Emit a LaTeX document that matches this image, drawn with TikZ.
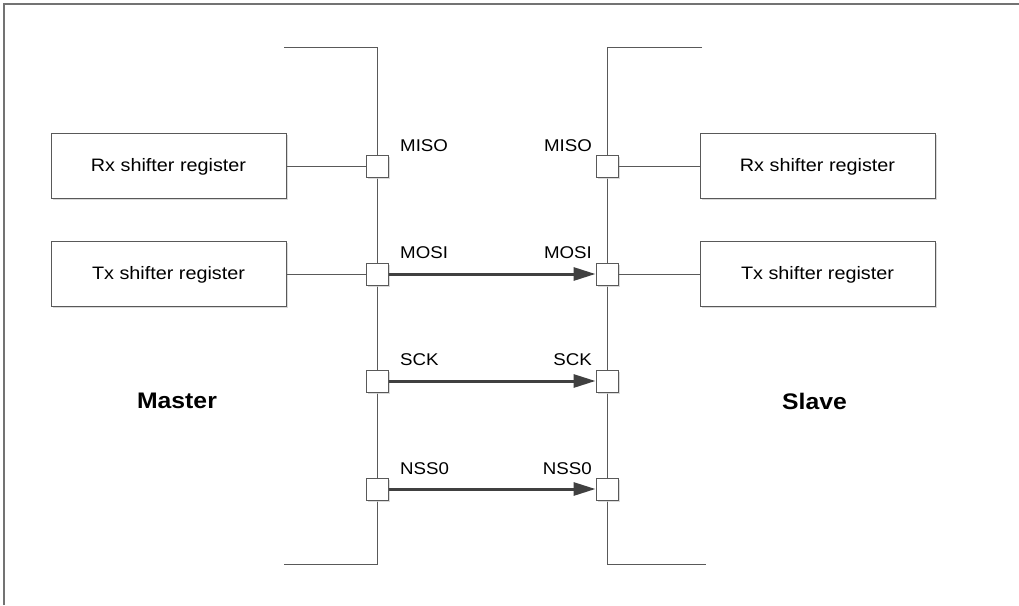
\documentclass[tikz,border=0pt]{standalone}
\usepackage{fontspec}
\setmainfont{Liberation Sans}[FakeStretch=1.1]
\usetikzlibrary{arrows.meta,shadows}
\begin{document}
\begin{tikzpicture}[x=1pt,y=-1pt,
  frame/.style={draw=black!55, line width=1.4pt},
  bus/.style={draw=black!65, line width=1pt},
  wire/.style={draw=black!65, line width=1pt},
  softshadow/.style={drop shadow={shadow xshift=1.5pt, shadow yshift=-1.5pt, fill=black!18, opacity=0.8}},
  regbox/.style={draw=black!65, line width=1pt, fill=white, minimum width=235pt, minimum height=65pt, inner sep=0pt, text height=11pt, text depth=1pt, font=\fontsize{18}{21}\selectfont, softshadow},
  port/.style={draw=black!65, line width=1pt, fill=white, minimum size=22pt, inner sep=0pt, softshadow},
  sig/.style={draw=black!75, line width=3pt, -{Triangle[length=22pt,width=13pt]}},
  lbl/.style={inner sep=0pt, font=\fontsize{17}{20}\selectfont},
  side/.style={inner sep=0pt, font=\bfseries\fontsize{22.5}{25}\selectfont}]

\useasboundingbox (0,0) rectangle (1019,605);
\fill[white] (0,0) rectangle (1019,605);

% frame
\draw[frame] (4,605) -- (4,4) -- (1019,4);

% bus lines
\draw[bus] (284,47) -- (377,47) -- (377,564) -- (284,564);
\draw[bus] (702,47) -- (607,47) -- (607,564) -- (706,564);

% register boxes
\node[regbox] (mRx) at (168.5,166) {Rx shifter register};
\node[regbox] (mTx) at (168.5,274) {Tx shifter register};
\node[regbox] (sRx) at (817.5,166) {Rx shifter register};
\node[regbox] (sTx) at (817.5,274) {Tx shifter register};

% ports
\node[port] (mMISO) at (377,166) {};
\node[port] (mMOSI) at (377,274) {};
\node[port] (mSCK)  at (377,381) {};
\node[port] (mNSS)  at (377,489) {};
\node[port] (sMISO) at (607,166) {};
\node[port] (sMOSI) at (607,274) {};
\node[port] (sSCK)  at (607,381) {};
\node[port] (sNSS)  at (607,489) {};

% wires to registers
\draw[wire] (mRx.east) -- (mMISO.west);
\draw[wire] (mTx.east) -- (mMOSI.west);
\draw[wire] (sMISO.east) -- (sRx.west);
\draw[wire] (sMOSI.east) -- (sTx.west);

% signals
\draw[sig] (mMOSI.east) -- (sMOSI.west);
\draw[sig] (mSCK.east) -- (sSCK.west);
\draw[sig] (mNSS.east) -- (sNSS.west);

% labels
\node[lbl, anchor=west] (lmMISO) at (400,146) {MISO};
\node[lbl, anchor=west] (lmMOSI) at (400,252.5) {MOSI};
\node[lbl, anchor=west] (lmSCK)  at (400,360) {SCK};
\node[lbl, anchor=west] (lmNSS)  at (400,469) {NSS0};
\node[lbl, anchor=east] (lsMISO) at (592,146) {MISO};
\node[lbl, anchor=east] (lsMOSI) at (592,252.5) {MOSI};
\node[lbl, anchor=east] (lsSCK)  at (592,360) {SCK};
\node[lbl, anchor=east] (lsNSS)  at (592,469) {NSS0};

\node[side] (master) at (177,401) {Master};
\node[side] (slave)  at (814.5,401) {Slave};
\end{tikzpicture}
\end{document}
